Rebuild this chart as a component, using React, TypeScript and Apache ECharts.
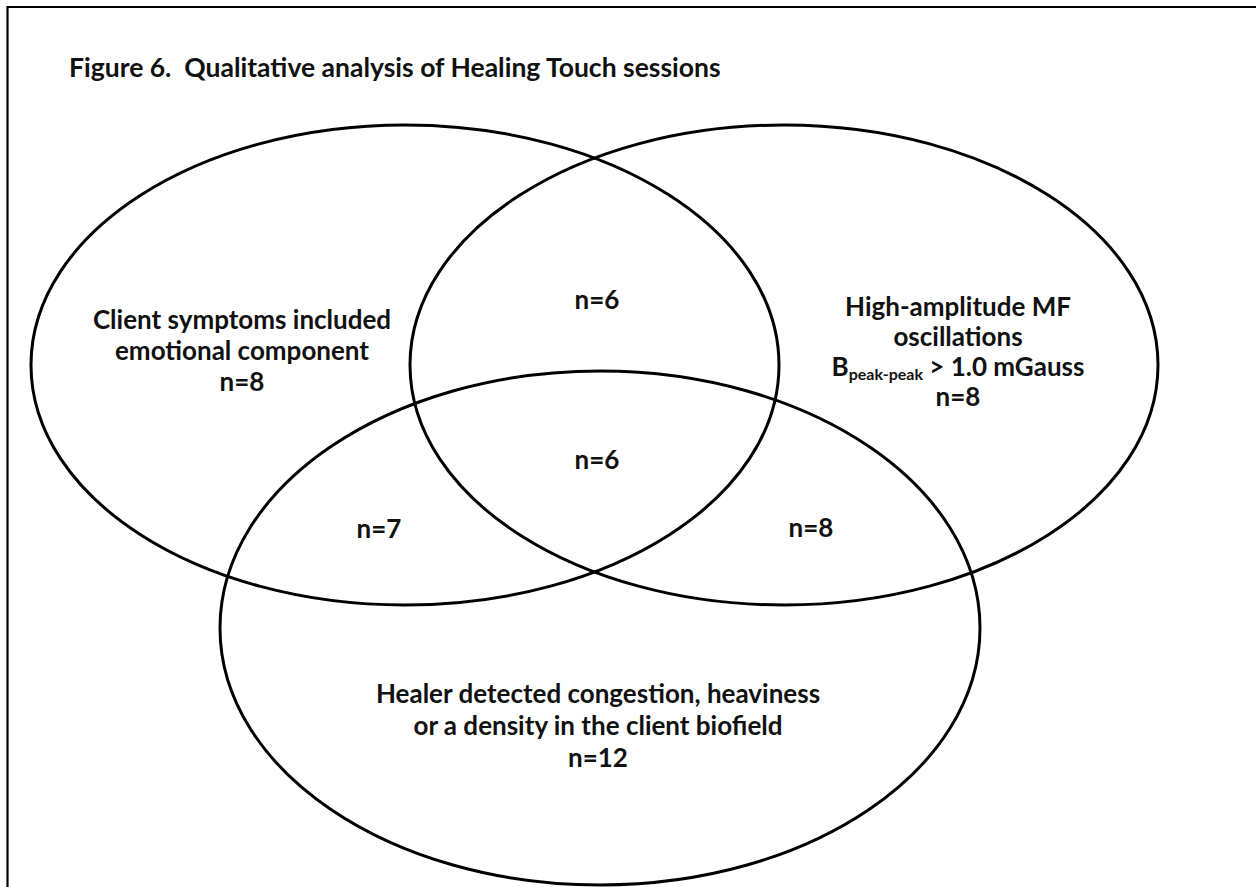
import React, { useEffect, useRef } from "react";
import * as echarts from "echarts";

// ---- data ----
const titleText = "Figure 6.  Qualitative analysis of Healing Touch sessions";
const setLabels = [
  "Client symptoms included\nemotional component",
  "High-amplitude MF\noscillations",
  "Healer detected congestion, heaviness\nor a density in the client biofield",
];
const setCounts = [8, 8, 12];
const pairNames = ["Client∩MF", "Client∩Healer", "MF∩Healer"];
const pairCounts = [6, 7, 8];
const tripleCount = 6;
const thresholdVar = "B";
const thresholdSub = "peak-peak";
const thresholdRest = " > 1.0 mGauss";

// ---- layout (positions / styles) ----
const FONT = "Lato";
const FS = 26;
const ellipses = [
  { cx: 405, cy: 365, rx: 374, ry: 240 },
  { cx: 784, cy: 365, rx: 374, ry: 240 },
  { cx: 600, cy: 628, rx: 380, ry: 257 },
];
const setLabelPos = [
  { x: 242, y: 350, lh: 31 },
  { x: 958, y: 351, lh: 30 },
  { x: 598, y: 725, lh: 32 },
];
const pairPos = [
  { x: 597, y: 299 },
  { x: 379, y: 528 },
  { x: 811, y: 527 },
];
const triplePos = { x: 597, y: 459 };

export default function App() {
  const ref = useRef<HTMLDivElement>(null);
  useEffect(() => {
    if (!ref.current) return;
    const chart = echarts.init(ref.current, null, { renderer: "svg" });
    const base = { fontFamily: FONT, fontWeight: "bold", fontSize: FS, fill: "#111" };
    const elements: any[] = [];
    elements.push({
      type: "rect",
      shape: { x: 7.5, y: 7, width: 1262, height: 900 },
      style: { fill: "#fff", stroke: "#000", lineWidth: 2.2 },
    });
    elements.push({
      type: "text",
      style: { ...base, fontSize: 26.5, text: titleText, x: 69, y: 67, textAlign: "left", textVerticalAlign: "middle" },
    });
    ellipses.forEach((e) => {
      elements.push({
        type: "ellipse",
        shape: e,
        style: { fill: "none", stroke: "#000", lineWidth: 3 },
      });
    });
    setLabels.forEach((lab, i) => {
      const p = setLabelPos[i];
      const rich: any = {
        t: { ...base, lineHeight: p.lh },
        b: { ...base, lineHeight: p.lh },
        s: { ...base, fontSize: 16, lineHeight: 16, verticalAlign: "bottom" },
      };
      let text = lab.split("\n").map((l) => `{t|${l}}`).join("\n");
      if (i === 1) {
        text += `\n{b|${thresholdVar}}{s|${thresholdSub}}{t|${thresholdRest}}`;
      }
      text += `\n{t|n=${setCounts[i]}}`;
      elements.push({
        type: "text",
        style: { ...base, text, rich, x: p.x, y: p.y, textAlign: "center", textVerticalAlign: "middle" },
      });
    });
    pairCounts.forEach((c, i) => {
      const p = pairPos[i];
      elements.push({
        type: "text",
        name: pairNames[i],
        style: { ...base, text: `n=${c}`, x: p.x, y: p.y, textAlign: "center", textVerticalAlign: "middle" },
      });
    });
    elements.push({
      type: "text",
      style: { ...base, text: `n=${tripleCount}`, x: triplePos.x, y: triplePos.y, textAlign: "center", textVerticalAlign: "middle" },
    });
    chart.setOption({
      animation: false,
      backgroundColor: "#fff",
      graphic: { elements },
    });
    return () => chart.dispose();
  }, []);
  return (
    <div
      ref={ref}
      style={{ position: "fixed", left: 0, top: 0, width: 1256, height: 887, background: "#fff" }}
    />
  );
}
